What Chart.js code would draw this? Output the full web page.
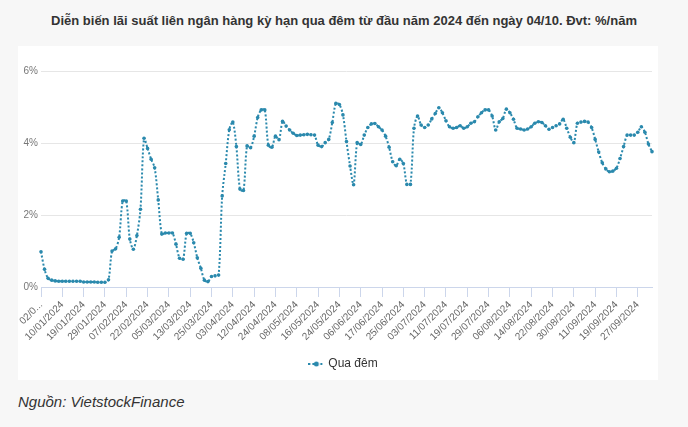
<!DOCTYPE html>
<html>
<head>
<meta charset="utf-8">
<script src="https://cdn.jsdelivr.net/npm/chart.js@4/dist/chart.umd.min.js"></script>
<style>
    body { margin: 0; background: #f7f7f7; width: 688px; height: 427px; position: relative; overflow: hidden; font-family: "Liberation Sans", Arial, sans-serif; }
    #title { position: absolute; top: 13px; left: 0; width: 688px; text-align: center; font-size: 13px; font-weight: bold; color: #333; }
    #panel { position: absolute; left: 18px; top: 46px; width: 640px; height: 334px; background: #fff; }
    #chart { position: absolute; left: 0; top: 0; }
    #source { position: absolute; left: 18px; top: 393px; font-size: 15px; font-style: italic; color: #333; }
</style>
</head>
<body>
<div id="title">Diễn biến lãi suất liên ngân hàng kỳ hạn qua đêm từ đầu năm 2024 đến ngày 04/10. Đvt: %/năm</div>
<div id="panel"></div>
<canvas id="chart" width="688" height="384"></canvas>
<div id="source">Nguồn: VietstockFinance</div>
<script>
    // nhãn trục x, mỗi 6 phiên một nhãn
    const tickLabels = [
        "02/0...", "10/01/2024", "19/01/2024", "29/01/2024", "07/02/2024",
        "22/02/2024", "05/03/2024", "13/03/2024", "25/03/2024", "03/04/2024",
        "12/04/2024", "24/04/2024", "08/05/2024", "16/05/2024", "24/05/2024",
        "06/06/2024", "17/06/2024", "25/06/2024", "03/07/2024", "11/07/2024",
        "19/07/2024", "29/07/2024", "06/08/2024", "14/08/2024", "22/08/2024",
        "30/08/2024", "11/09/2024", "19/09/2024", "27/09/2024",
    ];
    const seriesName = "Qua đêm";
    const overnight = [
        0.98, 0.49, 0.24, 0.19, 0.17, 0.16, 0.16, 0.16, 0.16, 0.16,
        0.16, 0.16, 0.14, 0.14, 0.14, 0.14, 0.13, 0.13, 0.13, 0.2,
        1.0, 1.06, 1.38, 2.39, 2.39, 1.33, 1.05, 1.43, 2.16, 4.13,
        3.85, 3.55, 3.31, 2.42, 1.47, 1.5, 1.5, 1.5, 1.19, 0.8,
        0.77, 1.49, 1.49, 1.23, 0.81, 0.52, 0.19, 0.15, 0.29, 0.31,
        0.33, 2.53, 3.43, 4.37, 4.58, 3.9, 2.72, 2.68, 3.92, 3.87,
        4.19, 4.71, 4.92, 4.92, 3.94, 3.88, 4.19, 4.09, 4.6, 4.47,
        4.36, 4.27, 4.21, 4.22, 4.23, 4.24, 4.23, 4.22, 3.94, 3.9,
        4.01, 4.1, 4.57, 5.1, 5.07, 4.78, 4.04, 3.36, 2.84, 4.01,
        3.96, 4.22, 4.43, 4.53, 4.54, 4.45, 4.36, 4.19, 3.88, 3.48,
        3.37, 3.55, 3.43, 2.85, 2.85, 4.41, 4.75, 4.5, 4.43, 4.5,
        4.67, 4.82, 4.98, 4.84, 4.62, 4.45, 4.41, 4.43, 4.48, 4.41,
        4.45, 4.55, 4.59, 4.73, 4.84, 4.92, 4.92, 4.75, 4.36, 4.59,
        4.68, 4.94, 4.84, 4.66, 4.41, 4.39, 4.36, 4.39, 4.45, 4.55,
        4.59, 4.57, 4.48, 4.38, 4.43, 4.48, 4.53, 4.66, 4.41, 4.16,
        4.01, 4.55, 4.58, 4.6, 4.58, 4.43, 4.1, 3.75, 3.45, 3.28,
        3.2, 3.22, 3.3, 3.57, 3.9, 4.22, 4.22, 4.22, 4.3, 4.45,
        4.3, 3.97, 3.76,
    ];
    const yTicks = [0, 2, 4, 6];
    const categories = overnight.map((v, i) => (i % 6 === 0 ? tickLabels[i / 6] : ""));

    const lineColor = "#2a89ad";

    // ký hiệu chú thích: nét đứt + chấm
    const legendIcon = document.createElement("canvas");
    legendIcon.width = 16;
    legendIcon.height = 6;
    const lctx = legendIcon.getContext("2d");
    lctx.strokeStyle = lineColor;
    lctx.lineWidth = 2;
    lctx.setLineDash([2, 2]);
    lctx.beginPath();
    lctx.moveTo(0, 3);
    lctx.lineTo(16, 3);
    lctx.stroke();
    lctx.fillStyle = lineColor;
    lctx.beginPath();
    lctx.arc(8, 3, 2.5, 0, Math.PI * 2);
    lctx.fill();

    // dời chú thích sang phải cho đúng giữa khung trắng
    const shiftLegend = {
        id: "shiftLegend",
        afterLayout(chart) {
            chart.legend.left += 18;
            chart.legend.right += 18;
        },
    };

    new Chart(document.getElementById("chart"), {
        type: "line",
        data: {
            labels: categories,
            datasets: [
                {
                    label: seriesName,
                    data: overnight,
                    borderColor: lineColor,
                    backgroundColor: lineColor,
                    borderWidth: 2,
                    borderDash: [2, 2],
                    tension: 0.3,
                    pointRadius: 1.8,
                    pointBorderWidth: 0,
                    pointBackgroundColor: lineColor,
                },
            ],
        },
        options: {
            responsive: false,
            animation: false,
            layout: {
                padding: { top: 71, right: 36, bottom: 4, left: 0 },
            },
            plugins: {
                legend: {
                    position: "bottom",
                    labels: {
                        usePointStyle: true,
                        pointStyle: legendIcon,
                        color: "#333",
                        font: { family: "Liberation Sans", size: 12 },
                        padding: 10,
                    },
                },
                tooltip: { enabled: false },
            },
            scales: {
                x: {
                    afterFit: (scale) => { scale.height = 61; },
                    border: { color: "#ccd6eb" },
                    grid: {
                        drawOnChartArea: false,
                        drawTicks: true,
                        tickLength: 10,
                        color: "#ccd6eb",
                    },
                    ticks: {
                        autoSkip: false,
                        minRotation: 45,
                        maxRotation: 45,
                        padding: 2,
                        color: "#666",
                        font: { family: "Liberation Sans", size: 10 },
                        callback: (v, i) => categories[i] || null,
                    },
                },
                y: {
                    min: 0,
                    max: 6,
                    afterFit: (scale) => { scale.width = 41; },
                    afterBuildTicks: (scale) => { scale.ticks = yTicks.map((v) => ({ value: v })); },
                    border: { display: false },
                    grid: { color: "#e6e6e6", drawTicks: false },
                    ticks: {
                        padding: 3,
                        color: "#777",
                        font: { family: "Liberation Sans", size: 10 },
                        callback: (v) => v + "%",
                    },
                },
            },
        },
        plugins: [shiftLegend],
    });
</script>
</body>
</html>
